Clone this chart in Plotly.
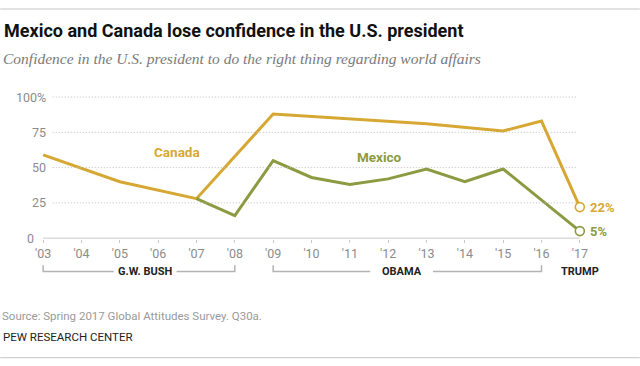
import plotly.graph_objects as go

# ---- data ----
years = list(range(2003, 2018))
year_labels = ["'" + str(y)[2:] for y in years]
canada = [59, None, 40, None, 28, None, 88, None, None, None, 81, None, 76, 83, 22]
mexico = [None, None, None, None, 28, 16, 55, 43, 38, 42, 49, 40, 49, None, 5]
y_ticks = [0, 25, 50, 75, 100]
y_tick_labels = ["0", "25", "50", "75", "100%"]
eras = ["G.W. BUSH", "OBAMA", "TRUMP"]
era_start = [2003, 2009, 2017]
era_end = [2008, 2016, 2017]
era_label_x = [2005.66, 2012.35, 2017]

CAN = "#D6A833"
MEX = "#8C9B41"
GRID = "#c9c9c9"
NARROW = "Liberation Sans Narrow, Arial Narrow, Roboto, sans-serif"

# ---- layout geometry (pixels) ----
Wd, Ht = 640, 366
L, R = 23.8, 599.2
T, B = 89.6, 239.15
PW, PH = R - L, B - T


def px(p):
    return (p - L) / PW


def py(p):
    return (B - p) / PH


fig = go.Figure()
fig.add_trace(go.Scatter(x=years, y=canada, mode="lines", connectgaps=True,
                         line=dict(color=CAN, width=3), hoverinfo="skip", showlegend=False))
fig.add_trace(go.Scatter(x=years, y=mexico, mode="lines", connectgaps=True,
                         line=dict(color=MEX, width=3), hoverinfo="skip", showlegend=False))
# end markers
fig.add_trace(go.Scatter(x=[years[-1]], y=[canada[-1]], mode="markers", cliponaxis=False,
                         marker=dict(size=9, color="white", line=dict(color=CAN, width=1.6)),
                         hoverinfo="skip", showlegend=False))
fig.add_trace(go.Scatter(x=[years[-1]], y=[mexico[-1]], mode="markers", cliponaxis=False,
                         marker=dict(size=9, color="white", line=dict(color=MEX, width=1.6)),
                         hoverinfo="skip", showlegend=False))

shapes = []
# grid lines
for v in y_ticks[1:]:
    shapes.append(dict(type="line", xref="x", yref="y", x0=2003.25, x1=2016.95, y0=v, y1=v,
                       line=dict(color="#bdbdbd", width=1, dash="1px,2px")))
# baseline
shapes.append(dict(type="line", xref="x", yref="y", x0=years[0], x1=years[-1], y0=0, y1=0,
                   line=dict(color=GRID, width=1)))
# top / bottom rules
shapes.append(dict(type="line", xref="paper", yref="paper", x0=px(0), x1=px(640), y0=py(8.3), y1=py(8.3),
                   line=dict(color="#c4c4c4", width=1)))
shapes.append(dict(type="line", xref="paper", yref="paper", x0=px(0), x1=px(640), y0=py(358.3), y1=py(358.3),
                   line=dict(color="#c4c4c4", width=1)))

# era brackets
BR = "#b3b3b3"
yb = py(271.7)
yt = py(265.5)
gap = 0.82
for name, s, e, c in zip(eras, era_start, era_end, era_label_x):
    if e > s:
        shapes.append(dict(type="path", xref="x", yref="paper",
                           path=f"M {s},{yt} L {s},{yb} L {c - gap},{yb}",
                           line=dict(color=BR, width=1.5)))
        shapes.append(dict(type="path", xref="x", yref="paper",
                           path=f"M {c + gap},{yb} L {e},{yb} L {e},{yt}",
                           line=dict(color=BR, width=1.5)))

annotations = []
# title, subtitle, source
annotations.append(dict(text="<b>Mexico and Canada lose confidence in the U.S. president</b>",
                        xref="paper", yref="paper", x=px(2), y=py(30), xanchor="left", yanchor="middle",
                        showarrow=False, font=dict(family=NARROW, size=18, color="#111")))
annotations.append(dict(text="<i>Confidence in the U.S. president to do the right thing regarding world affairs</i>",
                        xref="paper", yref="paper", x=px(1), y=py(58), xanchor="left", yanchor="middle",
                        showarrow=False, font=dict(family="Liberation Serif, serif", size=15.5, color="#7a7a7a")))
annotations.append(dict(text="Source: Spring 2017 Global Attitudes Survey. Q30a.",
                        xref="paper", yref="paper", x=px(0), y=py(316.5), xanchor="left", yanchor="middle",
                        showarrow=False, font=dict(family=NARROW, size=11.5, color="#9a9a9a")))
annotations.append(dict(text="PEW RESEARCH CENTER",
                        xref="paper", yref="paper", x=px(1), y=py(337.3), xanchor="left", yanchor="middle",
                        showarrow=False, font=dict(family=NARROW, size=11.5, color="#222")))
# y tick labels
for v, t in zip(y_ticks, y_tick_labels):
    annotations.append(dict(text=t, xref="x", yref="y", x=2003.12 if v else 2002.82, y=v,
                            xanchor="right", yanchor="middle", showarrow=False,
                            font=dict(family=NARROW, size=12.5, color="#8c8c8c")))
# series labels
annotations.append(dict(text="<b>Canada</b>", xref="x", yref="y", x=2006.48, y=61.4, showarrow=False,
                        font=dict(family=NARROW, size=13.5, color=CAN)))
annotations.append(dict(text="<b>Mexico</b>", xref="x", yref="y", x=2011.77, y=57.3, showarrow=False,
                        font=dict(family=NARROW, size=13.5, color=MEX)))
# end value labels
annotations.append(dict(text=f"<b>{canada[-1]}%</b>", xref="x", yref="y", x=years[-1], y=canada[-1],
                        xshift=8, xanchor="left", yanchor="middle", showarrow=False,
                        font=dict(family=NARROW, size=13, color=CAN)))
annotations.append(dict(text=f"<b>{mexico[-1]}%</b>", xref="x", yref="y", x=years[-1], y=mexico[-1],
                        xshift=8, xanchor="left", yanchor="middle", showarrow=False,
                        font=dict(family=NARROW, size=13, color=MEX)))
# era labels
for name, c in zip(eras, era_label_x):
    annotations.append(dict(text=f"<b>{name}</b>", xref="x", yref="paper", x=c, y=py(271.5),
                            xanchor="center", yanchor="middle", showarrow=False,
                            font=dict(family=NARROW, size=11, color="#222")))

fig.update_layout(
    width=Wd, height=Ht,
    margin=dict(l=L, r=Wd - R, t=T, b=Ht - B, pad=0),
    paper_bgcolor="white", plot_bgcolor="white",
    shapes=shapes, annotations=annotations,
    xaxis=dict(range=[2002.5, 2017.5], tickvals=years, ticktext=year_labels,
               showgrid=False, zeroline=False, showline=False,
               ticks="outside", ticklen=3, tickcolor=GRID, tickwidth=1,
               tickfont=dict(family=NARROW, size=12.5, color="#8c8c8c")),
    yaxis=dict(range=[-0.6, 105], showgrid=False, zeroline=False, showline=False,
               showticklabels=False, ticks=""),
)

fig.write_html("out.html", config={"displayModeBar": False},
               post_script="document.body.style.margin='0';")
